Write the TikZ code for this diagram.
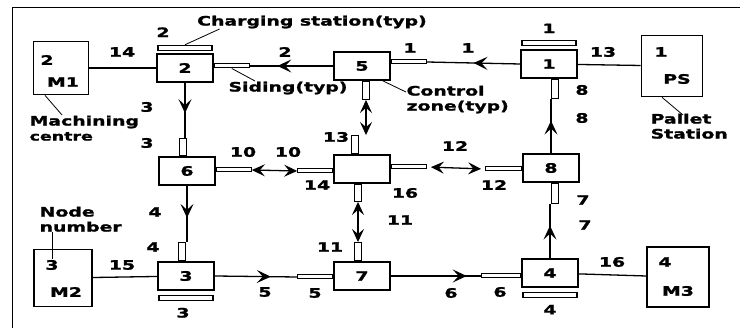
\documentclass[tikz,border=0pt]{standalone}
\usepackage{fontspec}
\font\lblfont="DejaVu Sans/B:extend=1.45;embolden=1.5" at 13pt
\font\smlfont="DejaVu Sans/B:extend=1.45;embolden=1.5" at 12pt
\usetikzlibrary{positioning,arrows.meta,decorations.markings}

\begin{document}
\begin{tikzpicture}[x=1pt, y=-1pt, line width=1.3pt,
        every node/.style={inner sep=0pt, font=\lblfont},
        blk/.style={draw, line width=1.7pt, minimum width=56pt, minimum height=28pt},
        mc/.style={draw, line width=1.7pt, minimum width=58pt, minimum height=57pt},
        bar/.style={draw, line width=1.4pt, minimum width=54pt, minimum height=5pt},
        hsid/.style={draw, line width=1pt, minimum width=35pt, minimum height=4pt},
        vsid/.style={draw, line width=1.1pt, minimum width=7pt, minimum height=18pt},
        note/.style={align=left, font={\lblfont\baselineskip=15pt}},
        midtip/.style={postaction={decorate}, decoration={markings,
            mark=at position #1 with {\arrow{Stealth[length=14pt, width=13pt, inset=6pt]}}}},
        both/.style={{Stealth[length=13pt, width=12pt, inset=5pt]}-{Stealth[length=13pt, width=12pt, inset=5pt]}}]
    \useasboundingbox (0,0) rectangle (740,328);
    \draw[line width=0.8pt] (12,328) -- (12,7) -- (740,7);

    % control zones
    \node[blk] (n2) at (185,68) {2};
    \node[blk] (n5) at (362,66) {5};
    \node[blk] (n1) at (549,64) {1};
    \node[blk] (n6) at (187,171) {6};
    \node[blk] (nc) at (362,169) {};
    \node[blk] (n8) at (551,168) {8};
    \node[blk] (n3) at (186,276) {3};
    \node[blk] (n7) at (362,276) {7};
    \node[blk] (n4) at (550,273) {4};

    % stations
    \node[mc, minimum width=55pt, minimum height=53pt] (m1) at (61,68) {};
    \node (m1n) at (47,60) {2};
    \node (m1t) at (63,82) {M1};
    \node[mc, minimum width=61pt, minimum height=61pt] (ps) at (672,66) {};
    \node (psn) at (661,52) {1};
    \node (pst) at (677,79) {PS};
    \node[mc] (m2) at (63,278) {};
    \node (m2n) at (52,265) {3};
    \node (m2t) at (66,292) {M2};
    \node[mc, minimum width=62pt, minimum height=60pt] (m3) at (678,277) {};
    \node (m3n) at (665,262) {4};
    \node (m3t) at (678,291) {M3};

    % charging stations
    \node[bar, above=2pt of n2] (c2) {};
    \node[bar, above=3pt of n1] (c1) {};
    \node[bar, below=4pt of n3] (c3) {};
    \node[bar, below=4pt of n4] (c4) {};
    \node[above=7pt of c2, xshift=-22pt] (c2l) {2};
    \node[above=6pt of c1] (c1l) {1};
    \node[below=6pt of c3, xshift=-3pt] (c3l) {3};
    \node[below=6pt of c4] (c4l) {4};

    % sidings
    \node[hsid, anchor=west] (s2e) at ([yshift=2pt]n2.east) {};
    \node[hsid, anchor=west] (s5e) at ([yshift=4pt]n5.east) {};
    \node[vsid, anchor=north] (s5s) at ([xshift=4pt]n5.south) {};
    \node[vsid, anchor=south] (scn) at ([xshift=-7pt]nc.north) {};
    \node[hsid, anchor=east] (scw) at ([yshift=-2pt]nc.west) {};
    \node[hsid, anchor=west] (sce) at ([yshift=2pt]nc.east) {};
    \node[vsid, anchor=north, minimum height=17pt] (scs) at ([xshift=-4pt]nc.south) {};
    \node[vsid, anchor=south, minimum height=17pt] (s6n) at ([xshift=-4pt]n6.north) {};
    \node[hsid, anchor=west] (s6e) at ([yshift=1pt]n6.east) {};
    \node[hsid, anchor=east, minimum width=36pt] (s8w) at ([yshift=-1pt]n8.west) {};
    \node[vsid, anchor=north, minimum height=20pt] (s8s) at ([xshift=4pt]n8.south) {};
    \node[vsid, anchor=north, minimum height=19pt] (s1s) at ([xshift=6pt]n1.south) {};
    \node[hsid, anchor=east] (s7w) at ([yshift=-1pt]n7.west) {};
    \node[vsid, anchor=south] (s7n) at ([xshift=-4pt]n7.north) {};
    \node[vsid, anchor=south] (s3n) at ([xshift=-4pt]n3.north) {};
    \node[hsid, anchor=east, minimum width=39pt] (s4w) at ([yshift=-3pt]n4.west) {};

    % links
    \draw (m1) -- (n2);
    \draw (n1) -- (ps);
    \draw (m2) -- (n3);
    \draw (n4) -- (m3);
    \draw[midtip=0.5] (n1.west) -- (s5e.east);
    \draw[midtip=0.67] (n5.west) -- (s2e.east);
    \draw[midtip=0.55] (n2.south) -- (n2.south |- s6n.north);
    \draw[midtip=0.57] (n6.south) -- (n6.south |- s3n.north);
    \draw[midtip=0.68] (n3.east) -- (s7w.west);
    \draw[midtip=0.84] (n7.east) -- (s4w.west);
    \draw[midtip=0.6] (n4.north) -- (n4.north |- s8s.south);
    \draw[midtip=0.6] (n8.north) -- (n8.north |- s1s.south);
    \draw[both] (s6e.east) -- (scw.west);
    \draw[both, shorten <=4pt, shorten >=4pt] (sce.east) -- (s8w.west);
    \draw[both] (s5s.south) -- (s5s.south |- scn.north);
    \draw[both] (scs.south) -- (scs.south |- s7n.north);

    % link numbers
    \node (l14) at (122,52) {14};
    \node (l13) at (603,52) {13};
    \node (l15) at (122,265) {15};
    \node (l16) at (612,262) {16};
    \node (l2) at (285,52) {2};
    \node (l1a) at (410,48) {1};
    \node (l1b) at (468,48) {1};
    \node (l3a) at (147,107) {3};
    \node (l3b) at (147,143) {3};
    \node (l4a) at (155,212) {4};
    \node (l4b) at (153,247) {4};
    \node (l5a) at (265,292) {5};
    \node (l5b) at (315,293) {5};
    \node (l6a) at (451,293) {6};
    \node (l6b) at (500,292) {6};
    \node (l7a) at (583,200) {7};
    \node (l7b) at (585,225) {7};
    \node (l8a) at (582,90) {8};
    \node (l8b) at (582,118) {8};
    \node (l10a) at (243,152) {10};
    \node (l10b) at (288,152) {10};
    \node (l14b) at (317,185) {14};
    \node (l12a) at (455,146) {12};
    \node (l12b) at (494,185) {12};
    \node (l13b) at (336,137) {13};
    \node (l16b) at (405,193) {16};
    \node (l11a) at (400,220) {11};
    \node (l11b) at (330,247) {11};

    % notes
    \node[note] (cst) at (312,22) {Charging station(typ)};
    \node[note] (sidt) at (288,88) {Siding(typ)};
    \node[note, anchor=north west] (ctl) at (406,85) {Control\\zone(typ)};
    \node[note, anchor=north west] (mct) at (29,115) {Machining\\{\smlfont centre}};
    \node[note, anchor=north west] (pst2) at (650,113) {Pallet\\Station};
    \node[note, anchor=north west] (nnt) at (39,206) {Node\\number};
    \draw[line width=0.8pt] (c2.north) -- ([xshift=23pt]cst.south west);
    \draw[line width=0.8pt] (s2e.south) -- ([xshift=-33pt]sidt.north);
    \draw[line width=0.8pt] ([xshift=-8pt]n5.south east) -- ([yshift=-7pt]ctl.north west);
    \draw[line width=0.8pt] ([xshift=-16pt]m1.south) -- ([xshift=33pt]mct.north west);
    \draw[line width=0.8pt] ([xshift=-10pt]ps.south) -- ([xshift=33pt, yshift=-2pt]pst2.north west);
    \draw[line width=0.8pt] (m2n.north) -- (m2n.north |- nnt.south);
\end{tikzpicture}
\end{document}
